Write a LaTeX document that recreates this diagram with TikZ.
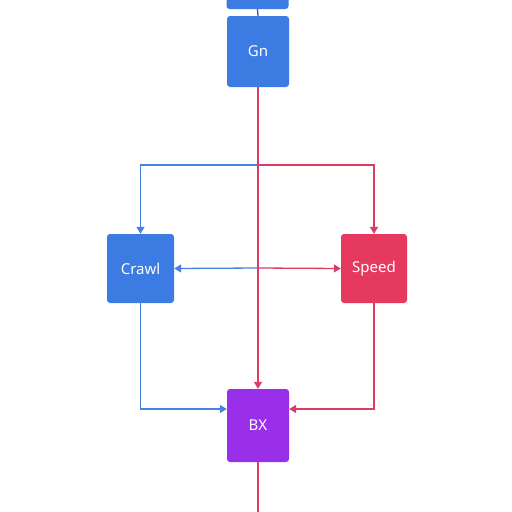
\documentclass[tikz,border=0pt]{standalone}
\usepackage{fontspec}
\setsansfont{Noto Sans}
\usetikzlibrary{arrows.meta}
\definecolor{boxblue}{HTML}{3C7BE2}
\definecolor{boxred}{HTML}{E6395E}
\definecolor{boxpurple}{HTML}{9A2FEA}
\definecolor{lineblue}{HTML}{4682E0}
\definecolor{linered}{HTML}{DC3B64}
\begin{document}
\begin{tikzpicture}[x=1pt,y=-1pt,
   box/.style={rounded corners=3pt, minimum width=62pt, text=white,
     font=\sffamily\fontsize{15}{18}\selectfont},
   bline/.style={draw=lineblue, line width=1.3pt},
   rline/.style={draw=linered, line width=1.3pt},
   tip/.style={-{Triangle[length=7pt,width=8pt]}}]
   \useasboundingbox (0,0) rectangle (512,512);
   \fill[white] (0,0) rectangle (512,512);
   % boxes
   \node[box, fill=boxblue, minimum height=26pt] (prev) at (257.5,-4) {};
   \node[box, fill=boxblue, minimum height=71pt] (gn) at (258,51.5) {Gn};
   \node[box, fill=boxblue, minimum width=67pt, minimum height=69pt] (crawl) at (140.5,268.5) {Crawl};
   \node[box, fill=boxred, minimum width=66pt, minimum height=69pt] (speed) at (374,268.5) {Speed};
   \node[box, fill=boxpurple, minimum height=73pt] (bx) at (258,425.5) {BX};
   \coordinate (split) at (258,165);
   \coordinate (mid) at (258,268);
   \coordinate (exit) at (258,512);
   % connectors
   \draw[draw=lineblue!70!black, line width=1.3pt] (prev.south) -- (gn.north);
   \draw[bline, tip] (split) -| (crawl.north);
   \draw[rline, tip] (split) -| (speed.north);
   \draw[bline, tip] (mid) -- (crawl.east);
   \draw[rline, tip] (mid) -- (speed.west);
   \draw[rline, tip] (gn.south) -- (bx.north);
   \draw[bline, tip] (crawl.south) |- ([yshift=16.5pt]bx.west);
   \draw[rline, tip] (speed.south) |- ([yshift=16.5pt]bx.east);
   \draw[rline] (bx.south) -- (exit);
\end{tikzpicture}
\end{document}
